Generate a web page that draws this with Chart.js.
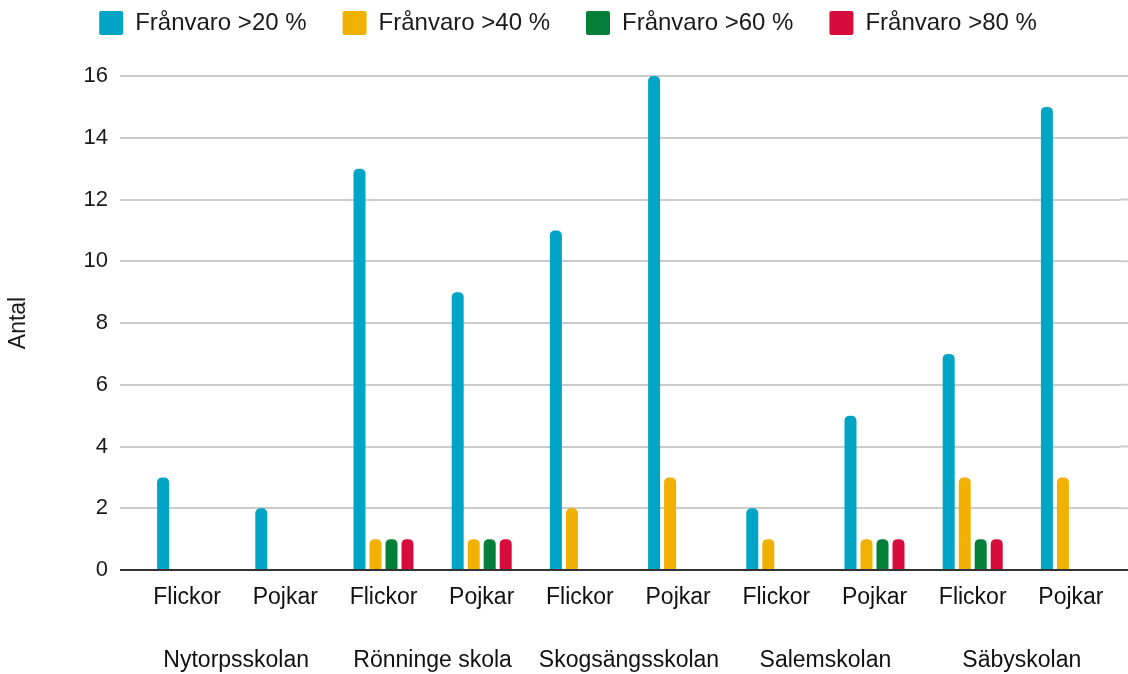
<!DOCTYPE html>
<html>
<head>
<meta charset="utf-8">
<script src="https://cdn.jsdelivr.net/npm/chart.js@4"></script>
<style>
html,body{margin:0;padding:0;background:#fff;}
#wrap{width:1128px;height:674px;}
</style>
</head>
<body>
<div id="wrap"><canvas id="franvaroChart" width="1128" height="674"></canvas></div>
<script>

const groups = ["Flickor","Pojkar","Flickor","Pojkar","Flickor","Pojkar","Flickor","Pojkar","Flickor","Pojkar"];
const schools = ["Nytorpsskolan","Rönninge skola","Skogsängsskolan","Salemskolan","Säbyskolan"];

const over20 = [3,2,13,9,11,16,2,5,7,15];
const over40 = [0,0,1,1,2,3,1,1,3,3];
const over60 = [0,0,1,1,0,0,0,1,1,0];
const over80 = [0,0,1,1,0,0,0,1,1,0];

const seriesNames = ["Frånvaro >20 %","Frånvaro >40 %","Frånvaro >60 %","Frånvaro >80 %"];
const colors = ["#00a5c6","#f2b000","#047f3a","#d60c3d"];

const FONT = "'Liberation Sans', Arial, sans-serif";

// stretch the legend block and run grid lines to the right edge
const tweaks = {
id:"tweaks",
beforeLayout(chart){
if(chart.legend && !chart.legend._patched){
const fit = chart.legend.fit;
chart.legend.fit = function(){
fit.call(this);
this.height = 101;
};
chart.legend._patched = true;
}
},
afterDraw(chart){
const y = chart.scales.y;
const ctx = chart.ctx;
ctx.save();
ctx.lineWidth = 2;
y.ticks.forEach(t=>{
const py = y.getPixelForValue(t.value);
ctx.strokeStyle = t.value===0 ? "#333" : "#cccccc";
ctx.beginPath();
ctx.moveTo(chart.chartArea.right, py);
ctx.lineTo(chart.width, py);
ctx.stroke();
});
ctx.restore();
}
};

function makeSet(i, values){
return {
label:seriesNames[i],
data:values,
backgroundColor:colors[i],
borderWidth:0,
borderRadius:{topLeft:5,topRight:5,bottomLeft:0,bottomRight:0},
borderSkipped:"start",
categoryPercentage:0.652,
barPercentage:0.75
};
}

new Chart(document.getElementById("franvaroChart"),{
type:"bar",
data:{
labels:groups,
datasets:[
makeSet(0, over20),
makeSet(1, over40),
makeSet(2, over60),
makeSet(3, over80)
]
},
options:{
responsive:false,
animation:false,
devicePixelRatio:1,
layout:{padding:{top:-25,left:16,right:8,bottom:-21}},
plugins:{
legend:{
position:"top",
labels:{
boxWidth:24,
boxHeight:24,
useBorderRadius:true,
borderRadius:2,
padding:36,
color:"#1a1a1a",
font:{family:FONT,size:24}
}
},
tooltip:{enabled:false}
},
scales:{
x:{
type:"category",
offset:true,
grid:{display:false,drawTicks:false},
border:{display:false},
ticks:{
padding:14.2,
color:"#111",
autoSkip:false,
maxRotation:0,
font:{family:FONT,size:23}
}
},
x2:{
type:"category",
position:"bottom",
labels:schools,
offset:true,
weight:1,
grid:{display:false,drawTicks:false},
border:{display:false},
ticks:{
padding:20.7,
color:"#111",
autoSkip:false,
maxRotation:0,
font:{family:FONT,size:23}
}
},
y:{
min:0,
max:16,
afterFit(scale){ scale.width = 122; },
grid:{
color:c=>c.tick && c.tick.value===0 ? "#333" : "#cccccc",
lineWidth:2,
tickLength:18,
drawTicks:true
},
border:{display:false},
ticks:{
stepSize:2,
padding:12,
color:"#1a1a1a",
font:{family:FONT,size:22}
},
title:{
display:true,
text:"Antal",
color:"#1a1a1a",
padding:{top:-10.8,bottom:0},
font:{family:FONT,size:23}
}
}
}
},
plugins:[tweaks]
});

</script>
</body>
</html>
